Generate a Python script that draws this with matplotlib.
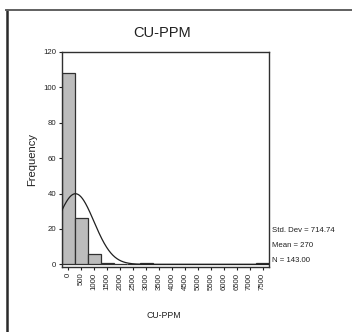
import numpy as np
import matplotlib
matplotlib.use("Agg")
import matplotlib.pyplot as plt
from matplotlib.lines import Line2D

plt.rcParams['font.family'] = ['Liberation Sans', 'DejaVu Sans']

# Data
bin_centers = [0, 500, 1000, 1500, 2000, 2500, 3000, 3500, 4000, 4500,
               5000, 5500, 6000, 6500, 7000, 7500]
frequencies = [108, 26, 6, 1, 0, 0, 1, 0, 0, 0, 0, 0, 0, 0, 0, 1]
tick_labels = [str(v) for v in bin_centers]
y_ticks = [0, 20, 40, 60, 80, 100, 120]
std_dev = 714.74
mean = 270
n_total = 143.00
bin_width = 500

W, H = 352, 332
fig = plt.figure(figsize=(W / 100, H / 100), dpi=100)
fig.patch.set_facecolor('white')

ax = fig.add_axes([62 / W, 1 - 267 / H, (269 - 62) / W, (267 - 52) / H])
ax.bar(bin_centers, frequencies, width=bin_width, color='#bcbcbc',
       edgecolor='#303030', linewidth=0.9, zorder=2)

xs = np.linspace(-250, 7750, 600)
ys = n_total * bin_width / (std_dev * np.sqrt(2 * np.pi)) * np.exp(-0.5 * ((xs - mean) / std_dev) ** 2)
ax.plot(xs, ys, color='#202020', linewidth=0.9, zorder=3)

ax.set_xlim(-250, 7750)
ax.set_ylim(-1.5, 120)
ax.set_xticks(bin_centers)
ax.set_xticklabels(tick_labels, rotation=90, fontsize=5.6)
ax.set_yticks(y_ticks)
ax.set_yticklabels([str(v) for v in y_ticks], fontsize=5.6)
ax.tick_params(axis='both', length=2, width=0.8, pad=2, colors='#202020')
for s in ax.spines.values():
    s.set_linewidth(1.0)
    s.set_color('#303030')

fig.text(162 / W, 1 - 33 / H, 'CU-PPM', fontsize=10.5, ha='center', va='center', color='#202020')
fig.text(164 / W, 1 - 315 / H, 'CU-PPM', fontsize=6.3, ha='center', va='center', color='#202020')
fig.text(32 / W, 1 - 159 / H, 'Frequency', fontsize=8, ha='center', va='center',
         rotation=90, color='#202020')

stats = [f'Std. Dev = {std_dev:.2f}', f'Mean = {mean}', f'N = {n_total:.2f}']
for i, t in enumerate(stats):
    fig.text(272 / W, 1 - (230 + 15.5 * i) / H, t, fontsize=5.6, ha='left', va='center',
             color='#202020')

# Outer frame (left and top edges)
fig.add_artist(Line2D([6.5 / W, 6.5 / W], [0, 1 - 9.5 / H], transform=fig.transFigure,
                      color='#2a2a2a', linewidth=1.8))
fig.add_artist(Line2D([5.6 / W, 1], [1 - 9.5 / H, 1 - 9.5 / H], transform=fig.transFigure,
                      color='#606060', linewidth=1.4))

fig.savefig('out.png', dpi=100)
